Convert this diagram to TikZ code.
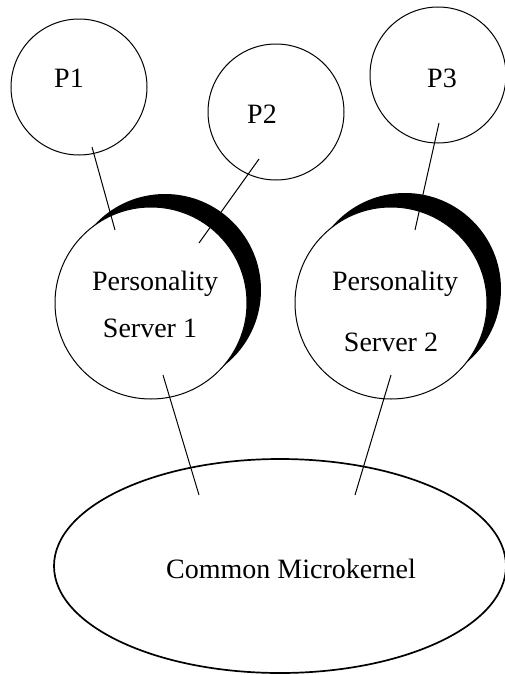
\documentclass[tikz,border=0pt]{standalone}
\usepackage{fontspec}
\setmainfont{Liberation Serif}
\usetikzlibrary{shapes.geometric}
\begin{document}
\begin{tikzpicture}[x=1pt,y=-1pt,
  proc/.style={circle,draw,line width=1pt,minimum size=136pt,inner sep=0pt},
  server/.style={circle,draw,fill=white,line width=1pt,minimum size=192pt,inner sep=0pt},
  shadow/.style={circle,fill=black,minimum size=192pt,inner sep=0pt},
  kernel/.style={ellipse,draw,line width=1.7pt,minimum width=452pt,minimum height=214pt,inner sep=0pt},
  lbl/.style={anchor=base,inner sep=0pt,font=\fontsize{28}{34}\selectfont},
  link/.style={line width=1pt}]
\useasboundingbox (0,0) rectangle (504,675);
% process circles
\node[proc] (p1) at (79,87) {};
\node[proc] (p2) at (276,112) {};
\node[proc] (p3) at (438,75) {};
\node[lbl] (p1t) at (69,87) {P1};
\node[lbl] (p2t) at (262,123) {P2};
\node[lbl] (p3t) at (442,87) {P3};
% personality servers with their black crescents
\node[shadow] (s1b) at (165,290) {};
\node[server] (s1) at (151,303) {};
\node[shadow] (s2b) at (405,289) {};
\node[server] (s2) at (391,303) {};
\node[lbl] (s1a) at (155,290) {Personality};
\node[lbl] (s1c) at (150,337) {Server 1};
\node[lbl] (s2a) at (395,290) {Personality};
\node[lbl] (s2c) at (391,351) {Server 2};
% microkernel
\node[kernel] (k) at (280,566) {};
\node[lbl] (kt) at (291,578) {Common Microkernel};
% connector ends
\coordinate (p1o) at (92,147);  \coordinate (p1i) at (115,230);
\coordinate (p2o) at (259,159); \coordinate (p2i) at (199,243);
\coordinate (p3o) at (439,123); \coordinate (p3i) at (415,230);
\coordinate (s1o) at (163,375); \coordinate (s1i) at (199,495);
\coordinate (s2o) at (391,375); \coordinate (s2i) at (355,495);
\draw[link] (p1o) -- (p1i);
\draw[link] (p2o) -- (p2i);
\draw[link] (p3o) -- (p3i);
\draw[link] (s1o) -- (s1i);
\draw[link] (s2o) -- (s2i);
\end{tikzpicture}
\end{document}
